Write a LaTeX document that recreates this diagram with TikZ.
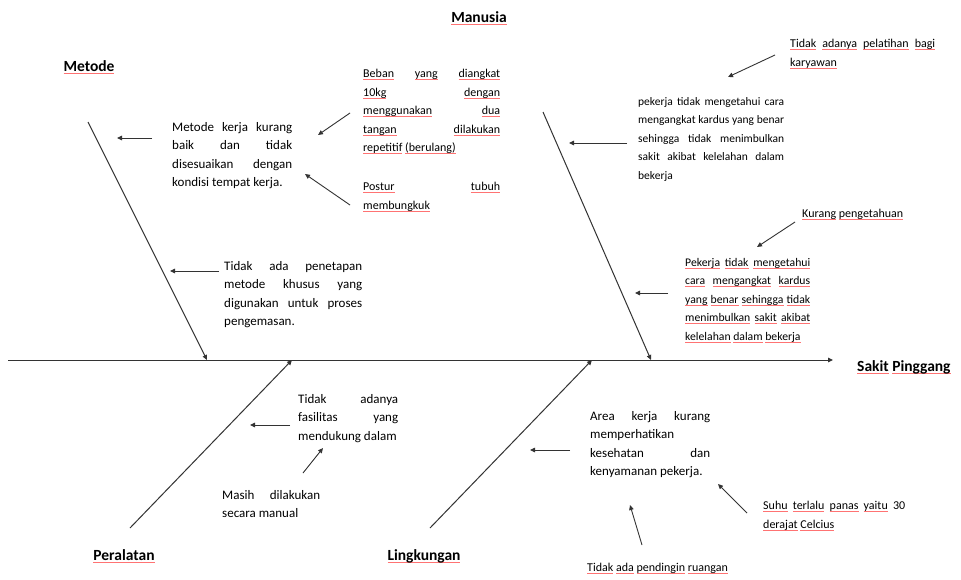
\documentclass[tikz,border=0pt]{standalone}
\usepackage{fontspec}
\setmainfont{Carlito}
\usetikzlibrary{arrows.meta}
\newcommand\uw[1]{\leavevmode\setbox0\hbox{#1}\rlap{\color{red!55}\rule[-2.2pt]{\wd0}{0.6pt}}\box0}
\def\rl#1{\rlA#1 \rlend}
\def\rlA#1 #2\rlend{\uw{#1}\if\relax\detokenize{#2}\relax\else\ \rlA#2\rlend\fi}
\tikzset{
  body/.style={inner sep=0pt, anchor=north west, font=\fontsize{13}{18.5}\selectfont, align=justify, text width=#1},
  tightbody/.style={inner sep=0pt, anchor=north west, font=\fontsize{11.5}{18.5}\selectfont, align=justify, text width=#1},
  redbody/.style={inner sep=0pt, anchor=north west, font=\fontsize{12}{18.5}\selectfont, align=justify, text width=#1},
  one/.style={inner sep=0pt, anchor=north west, font=\fontsize{12}{18.5}\selectfont},
  head/.style={inner sep=0pt, font=\fontsize{15.5}{18}\selectfont\bfseries},
  bone/.style={draw=black!80, line width=1pt, -{Triangle[length=5pt,width=4.5pt]}},
  arr/.style={draw=black!80, line width=0.9pt, -{Triangle[length=5pt,width=4.5pt]}}
}
\begin{document}
\begin{tikzpicture}[x=1pt,y=-1pt]
\useasboundingbox (0,0) rectangle (961,579);
\fill[white] (0,0) rectangle (961,579);
% headings
\node[head] (manusia) at (479,18) {\uw{Manusia}};
\node[head] (metode) at (89,67) {\uw{Metode}};
\node[head] (peralatan) at (124,556) {\uw{Peralatan}};
\node[head] (lingkungan) at (424,556) {\uw{Lingkungan}};
\node[head, anchor=west] (effect) at (857,367) {\rl{Sakit Pinggang}};
% spine and bones
\coordinate (sp0) at (8,360);
\coordinate (sp1) at (833,360);
\draw[bone] (sp0) -- (sp1);
\coordinate (mt0) at (88,122);
\coordinate (mt1) at (207,360);
\draw[bone] (mt0) -- (mt1);
\coordinate (mn0) at (543,112);
\coordinate (mn1) at (651,360);
\draw[bone] (mn0) -- (mn1);
\coordinate (pr0) at (130,528);
\coordinate (pr1) at (292,360);
\draw[bone] (pr0) -- (pr1);
\coordinate (lk0) at (430,528);
\coordinate (lk1) at (592,360);
\draw[bone] (lk0) -- (lk1);
% Metode texts
\node[body=120pt] (t1) at (172,122) {Metode kerja kurang\linebreak baik dan tidak\linebreak disesuaikan dengan\linebreak kondisi tempat kerja.};
\node[redbody=137pt] (t2) at (363,69) {\rl{Beban yang diangkat}\linebreak \rl{10kg dengan}\linebreak \rl{menggunakan dua}\linebreak \rl{tangan dilakukan}\linebreak \rl{repetitif (berulang)}};
\node[redbody=137pt] (t3) at (363,182) {\rl{Postur tubuh}\linebreak \rl{membungkuk}};
\node[body=138pt] (t4) at (224,261) {Tidak ada penetapan\linebreak metode khusus yang\linebreak digunakan untuk proses\linebreak pengemasan.};
% Manusia texts
\node[redbody=145pt] (t5) at (790,39) {\rl{Tidak adanya pelatihan bagi}\linebreak \rl{karyawan}};
\node[tightbody=146pt] (t6) at (638,97) {pekerja tidak mengetahui cara\linebreak mengangkat kardus yang benar\linebreak sehingga tidak menimbulkan\linebreak sakit akibat kelelahan dalam\linebreak bekerja};
\node[one] (t7) at (802,209) {\rl{Kurang pengetahuan}};
\node[redbody=125pt, font=\fontsize{11.7}{18.5}\selectfont] (t8) at (685,258) {\rl{Pekerja tidak mengetahui}\linebreak \rl{cara mengangkat kardus}\linebreak \rl{yang benar sehingga tidak}\linebreak \rl{menimbulkan sakit akibat}\linebreak \rl{kelelahan dalam bekerja}};
% Peralatan texts
\node[body=100pt] (t9) at (298,394) {Tidak adanya\linebreak fasilitas yang\linebreak mendukung dalam};
\node[body=98pt] (t10) at (222,490) {Masih dilakukan\linebreak secara manual};
% Lingkungan texts
\node[body=120pt] (t11) at (590,411) {Area kerja kurang\linebreak memperhatikan\newline kesehatan dan\linebreak kenyamanan pekerja.};
\node[redbody=142pt] (t12) at (763,501) {\rl{Suhu terlalu panas yaitu}\ 30\linebreak \rl{derajat Celcius}};
\node[one] (t13) at (587,563) {\rl{Tidak ada pendingin ruangan}};
% arrows
\coordinate (a1s) at (152,138); \coordinate (a1e) at (117,138);
\draw[arr] (a1s) -- (a1e);
\coordinate (a2s) at (350,113); \coordinate (a2e) at (318,135);
\draw[arr] (a2s) -- (a2e);
\coordinate (a3s) at (350,205); \coordinate (a3e) at (305,174);
\draw[arr] (a3s) -- (a3e);
\coordinate (a4s) at (219,271); \coordinate (a4e) at (170,271);
\draw[arr] (a4s) -- (a4e);
\coordinate (a5s) at (627,143); \coordinate (a5e) at (569,143);
\draw[arr] (a5s) -- (a5e);
\coordinate (a6s) at (775,55); \coordinate (a6e) at (728,77);
\draw[arr] (a6s) -- (a6e);
\coordinate (a7s) at (795,222); \coordinate (a7e) at (757,247);
\draw[arr] (a7s) -- (a7e);
\coordinate (a8s) at (668,293); \coordinate (a8e) at (635,293);
\draw[arr] (a8s) -- (a8e);
\coordinate (a9s) at (290,425); \coordinate (a9e) at (250,425);
\draw[arr] (a9s) -- (a9e);
\coordinate (a10s) at (303,473); \coordinate (a10e) at (323,448);
\draw[arr] (a10s) -- (a10e);
\coordinate (a11s) at (570,450); \coordinate (a11e) at (530,450);
\draw[arr] (a11s) -- (a11e);
\coordinate (a12s) at (642,545); \coordinate (a12e) at (630,505);
\draw[arr] (a12s) -- (a12e);
\coordinate (a13s) at (747,513); \coordinate (a13e) at (718,484);
\draw[arr] (a13s) -- (a13e);
\end{tikzpicture}
\end{document}
